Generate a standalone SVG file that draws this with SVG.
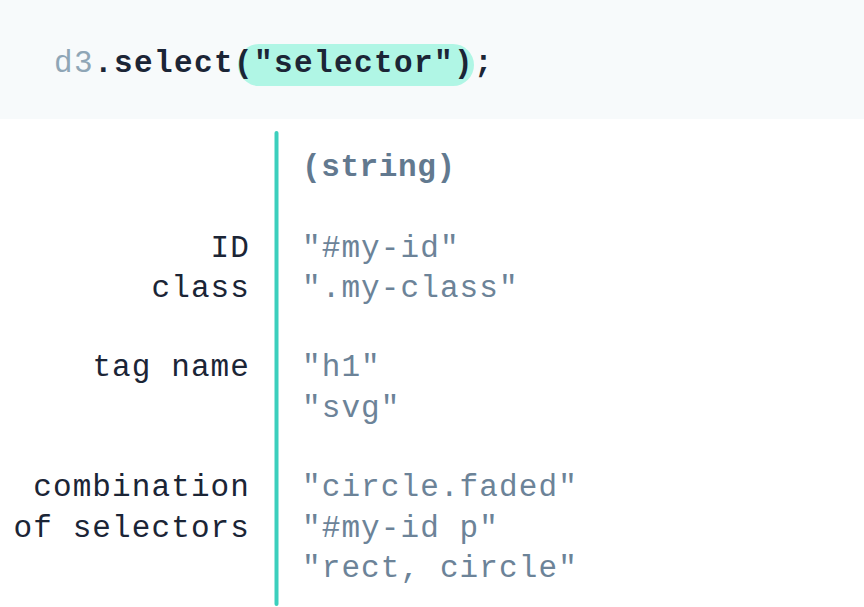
<svg xmlns="http://www.w3.org/2000/svg" width="864" height="607" viewBox="0 0 864 607">
<style>
text{font-family:"Liberation Mono","Courier New",monospace;font-size:31px;letter-spacing:1.1px}
.code{font-weight:bold;fill:#1b2536;letter-spacing:1.4px}
.d3{font-weight:normal;fill:#8fa6b6}
.lbl{fill:#1b2536;text-anchor:end}
.val{fill:#6c8398}
.type{fill:#62798f;font-weight:bold;letter-spacing:0.6px}
</style>
<rect x="0" y="0" width="864" height="119" fill="#f7fafb"/>
<g id="code">
<rect x="238" y="44" width="236" height="42" rx="21" fill="#b0f6e5"/>
<text x="54" y="72" class="code"><tspan class="d3">d3</tspan>.select("selector");</text>
</g>
<g id="divider">
<line x1="276.5" y1="133" x2="276.5" y2="604" stroke="#3ccfbd" stroke-width="4" stroke-linecap="round"/>
</g>
<g id="header"><text x="302" y="176" class="type">(string)</text></g>
<g id="id-class">
<text x="250" y="257" class="lbl">ID</text>
<text x="250" y="297" class="lbl">class</text>
<text x="302" y="257" class="val">"#my-id"</text>
<text x="302" y="297" class="val">".my-class"</text>
</g>
<g id="tag">
<text x="250" y="376" class="lbl">tag name</text>
<text x="302" y="376" class="val">"h1"</text>
<text x="302" y="417" class="val">"svg"</text>
</g>
<g id="combo">
<text x="250" y="496" class="lbl">combination</text>
<text x="250" y="537" class="lbl">of selectors</text>
<text x="302" y="496" class="val">"circle.faded"</text>
<text x="302" y="537" class="val">"#my-id p"</text>
<text x="302" y="577" class="val">"rect, circle"</text>
</g>
</svg>
